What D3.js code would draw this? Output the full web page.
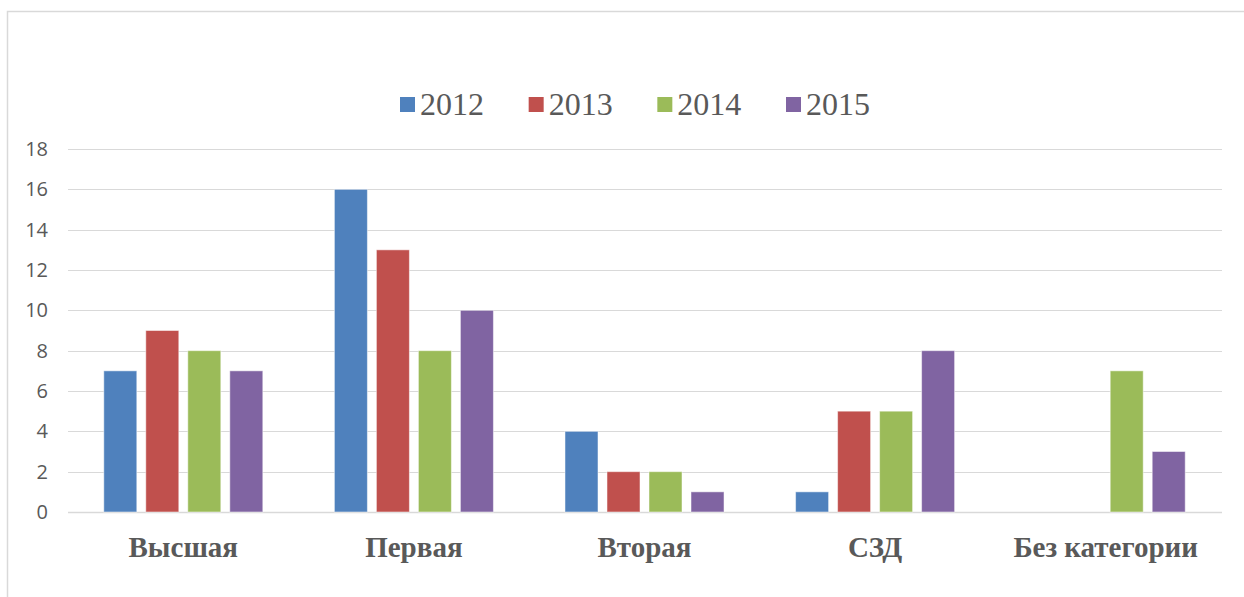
<!DOCTYPE html>
<html>
<head>
<meta charset="utf-8">
<script src="https://cdn.jsdelivr.net/npm/d3@7"></script>
<style>
    body { margin: 0; background: #fff; }
    svg { display: block; }
</style>
</head>
<body>
<svg id="chart" width="1244" height="597"></svg>
<script>
const categories = ['Высшая', 'Первая', 'Вторая', 'СЗД', 'Без категории'];
const years = ['2012', '2013', '2014', '2015'];
const values2012 = [7, 16, 4, 1, 0];
const values2013 = [9, 13, 2, 5, 0];
const values2014 = [8, 8, 2, 5, 7];
const values2015 = [7, 10, 1, 8, 3];
const yTicks = [0, 2, 4, 6, 8, 10, 12, 14, 16, 18];
const colors = ['#4F81BD', '#C0504D', '#9BBB59', '#8064A2'];

const seriesValues = [values2012, values2013, values2014, values2015];
const width = 1244;
const height = 597;
const plot = { left: 68, right: 1221, top: 149, bottom: 512 };

const svg = d3.select('#chart');

// chart frame (left and top edge only are visible)
svg.append('path')
    .attr('d', `M7.5,${height} V11.5 H${width}`)
    .attr('fill', 'none')
    .attr('stroke', '#d9d9d9')
    .attr('stroke-width', 1.5);

const y = d3.scaleLinear().domain([0, 18]).range([plot.bottom, plot.top]);
const x0 = d3.scaleBand().domain(categories).range([plot.left, plot.right]);
const x1 = d3.scaleBand().domain(years)
    .range([0, x0.step()])
    .paddingInner(0.214)
    .paddingOuter(0.852);

// gridlines
svg.append('g')
    .selectAll('line')
    .data(yTicks)
    .join('line')
    .attr('x1', plot.left)
    .attr('x2', plot.right + 1)
    .attr('y1', d => Math.round(y(d)) + 0.5)
    .attr('y2', d => Math.round(y(d)) + 0.5)
    .attr('stroke', '#d9d9d9')
    .attr('stroke-width', d => d === 0 ? 1.5 : 1);

// y axis labels
const yAxis = d3.axisLeft(y).tickValues(yTicks).tickSize(0).tickPadding(20);
svg.append('g')
    .attr('transform', `translate(${plot.left},0)`)
    .call(yAxis)
    .call(g => g.select('.domain').remove())
    .selectAll('text')
    .attr('font-family', 'Open Sans, sans-serif')
    .attr('font-size', 20)
    .attr('fill', '#595959');

// bars
const groups = svg.append('g')
    .selectAll('g')
    .data(categories)
    .join('g')
    .attr('transform', d => `translate(${x0(d)},0)`);

groups.selectAll('rect')
    .data((d, i) => years.map((yr, j) => ({ yr, j, v: seriesValues[j][i] })).filter(b => b.v > 0))
    .join('rect')
    .attr('x', d => x1(d.yr))
    .attr('y', d => y(d.v))
    .attr('width', x1.bandwidth())
    .attr('height', d => y(0) - y(d.v))
    .attr('fill', d => colors[d.j])
    .attr('stroke', '#ffffff')
    .attr('stroke-opacity', 0.5)
    .attr('stroke-width', 1);

// category labels
svg.append('g')
    .selectAll('text')
    .data(categories)
    .join('text')
    .attr('x', d => x0(d) + x0.bandwidth() / 2)
    .attr('y', 557)
    .attr('text-anchor', 'middle')
    .attr('font-family', 'Liberation Serif, Times New Roman, serif')
    .attr('font-weight', 'bold')
    .attr('font-size', 29)
    .attr('fill', '#595959')
    .text(d => d);

// legend
const legendX = d3.scalePoint().domain(years).range([400, 786]);
const legend = svg.append('g')
    .selectAll('g')
    .data(years)
    .join('g')
    .attr('transform', d => `translate(${legendX(d)},0)`);

legend.append('rect')
    .attr('x', 0)
    .attr('y', 97)
    .attr('width', 15)
    .attr('height', 15)
    .attr('fill', (d, i) => colors[i]);

legend.append('text')
    .attr('x', 20)
    .attr('y', 115)
    .attr('font-family', 'Liberation Serif, Times New Roman, serif')
    .attr('font-size', 32)
    .attr('fill', '#595959')
    .text(d => d);
</script>
</body>
</html>
